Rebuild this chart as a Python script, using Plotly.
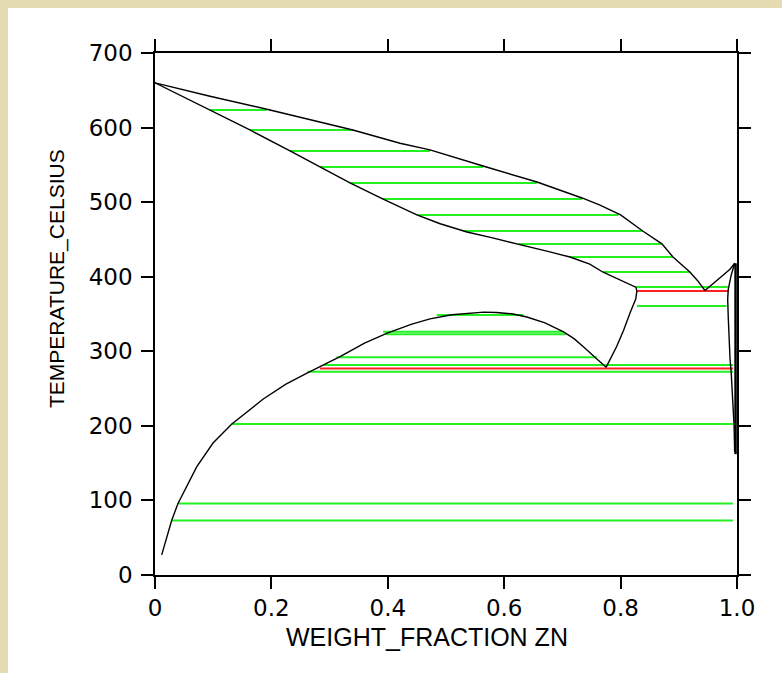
import plotly.graph_objects as go

# --- Data ---
# Al-rich liquidus
liq_x = [0.0, 0.0945, 0.1976, 0.34, 0.421, 0.4725, 0.5636, 0.6564, 0.7337, 0.7646, 0.80, 0.838, 0.871, 0.890, 0.919, 0.932, 0.945]
liq_T = [660, 642, 623.6, 596.8, 579, 570, 548.5, 527, 505.6, 496, 482.8, 461.3, 444, 426.4, 406.3, 395, 381.5]
# Al-rich solidus
sol_x = [0.0, 0.0945, 0.163, 0.232, 0.2835, 0.335, 0.392, 0.45, 0.49, 0.536, 0.58, 0.632, 0.675, 0.713, 0.747, 0.77, 0.80, 0.826, 0.828]
sol_T = [660, 623.6, 596.8, 568.6, 547, 525.7, 504, 483, 471, 460, 452, 442.5, 434, 426.4, 417, 406, 395, 386, 381]
# boundary from eutectic solid down to the eutectoid point
mono_x = [0.828, 0.826, 0.816, 0.805, 0.793, 0.784, 0.775]
mono_T = [381, 370, 351, 328, 306, 292, 278.5]
# Al-rich solvus / miscibility dome
dome_x = [0.0115, 0.0286, 0.0395, 0.0716, 0.0997, 0.132, 0.186, 0.225, 0.262, 0.29, 0.318, 0.36, 0.398, 0.44, 0.4725,
          0.51, 0.541, 0.565, 0.587, 0.615, 0.639, 0.67, 0.702, 0.72, 0.736, 0.755, 0.775]
dome_T = [27, 73, 96, 145, 177, 202.5, 236, 256, 271, 282, 293, 311, 324, 336, 343.5,
          349, 351.5, 352.5, 352, 350, 346, 338, 326, 317, 306, 293, 278.5]
# Zn-rich liquidus
znliq_x = [0.945, 0.96, 0.975, 0.988, 0.996]
znliq_T = [381.5, 391, 401, 410, 418]
# Zn-rich solidus and solvus
znsol_x = [0.996, 0.990, 0.985, 0.984, 0.985, 0.986, 0.988, 0.990, 0.993, 0.995, 0.996]
znsol_T = [418, 402, 383, 370, 345, 320, 290, 272, 235, 200, 165]
# Zn-side edge line
znedge_x = [0.9975, 0.9975, 0.9975]
znedge_T = [418, 250, 162]

# Green tie lines: temperature, left end, right end
tie_T = [623.6, 596.8, 568.6, 547.1, 525.7, 504.2, 482.8, 461.3, 443.9, 426.4, 406.3, 386.2, 360.7,
         348.5, 326.3, 322.8, 292, 281.5, 272.7, 202.5, 96, 73]
tie_x0 = [0.0945, 0.163, 0.232, 0.2835, 0.335, 0.392, 0.45, 0.53, 0.625, 0.713, 0.77, 0.826, 0.828,
          0.484, 0.392, 0.397, 0.312, 0.29, 0.262, 0.132, 0.0395, 0.0286]
tie_x1 = [0.192, 0.340, 0.4725, 0.5636, 0.656, 0.734, 0.796, 0.838, 0.871, 0.890, 0.919, 0.985, 0.982,
          0.633, 0.702, 0.706, 0.759, 0.993, 0.993, 0.993, 0.993, 0.993]
# Red (invariant) tie lines
red_T = [381, 277]
red_x0 = [0.828, 0.2835]
red_x1 = [0.985, 0.993]

x_ticks = [0, 0.2, 0.4, 0.6, 0.8, 1.0]
x_ticktext = ["0", "0.2", "0.4", "0.6", "0.8", "1.0"]
y_ticks = [0, 100, 200, 300, 400, 500, 600, 700]
x_title = "WEIGHT_FRACTION ZN"
y_title = "TEMPERATURE_CELSIUS"

def segments(T, x0, x1):
    xs, ys = [], []
    for t, a, b in zip(T, x0, x1):
        xs += [a, b, None]
        ys += [t, t, None]
    return xs, ys

fig = go.Figure()
gx, gy = segments(tie_T, tie_x0, tie_x1)
fig.add_trace(go.Scatter(x=gx, y=gy, mode="lines", line=dict(color="#22f022", width=2), hoverinfo="skip"))
rx, ry = segments(red_T, red_x0, red_x1)
fig.add_trace(go.Scatter(x=rx, y=ry, mode="lines", line=dict(color="#ff2020", width=2), hoverinfo="skip"))

for xs, ys, w in [(liq_x, liq_T, 1.4), (sol_x, sol_T, 1.4), (mono_x, mono_T, 1.4), (dome_x, dome_T, 1.4),
                  (znliq_x, znliq_T, 1.4), (znsol_x, znsol_T, 1.4), (znedge_x, znedge_T, 2.5)]:
    fig.add_trace(go.Scatter(x=xs, y=ys, mode="lines", line=dict(color="black", width=w)))

# plot area in page pixels: x 155..737, y 53..575 ; figure placed at page origin (body margin removed)
pw, ph = 582, 522

def px_to_paper_x(px):
    return (px - 155) / pw

def px_to_paper_y(py):
    return (575 - py) / ph

beige = "#e6dcb4"
fig.update_layout(
    width=782, height=673,
    margin=dict(l=155, r=45, t=53, b=98),
    paper_bgcolor="white", plot_bgcolor="white",
    showlegend=False,
    font=dict(family="Arial, Liberation Sans, sans-serif", color="black", size=22),
    shapes=[
        dict(type="rect", xref="paper", yref="paper", x0=px_to_paper_x(-5), x1=px_to_paper_x(8),
             y0=px_to_paper_y(680), y1=px_to_paper_y(-5), fillcolor=beige, line=dict(width=0), layer="above"),
        dict(type="rect", xref="paper", yref="paper", x0=px_to_paper_x(-5), x1=px_to_paper_x(790),
             y0=px_to_paper_y(8), y1=px_to_paper_y(-5), fillcolor=beige, line=dict(width=0), layer="above"),
    ],
    annotations=[
        dict(text=x_title, xref="paper", yref="paper", x=px_to_paper_x(427), y=px_to_paper_y(637),
             xanchor="center", yanchor="middle", showarrow=False,
             font=dict(size=25, family="Arial, Liberation Sans, sans-serif")),
        dict(text=y_title, xref="paper", yref="paper", x=px_to_paper_x(57), y=px_to_paper_y(278),
             xanchor="center", yanchor="middle", showarrow=False, textangle=-90,
             font=dict(size=21, family="Arial, Liberation Sans, sans-serif")),
    ],
)
axis_common = dict(showline=True, linecolor="black", linewidth=1.5, mirror="ticks", ticks="outside",
                   ticklen=12, tickwidth=1.5, tickcolor="black", showgrid=False, zeroline=False,
                   tickfont=dict(size=23, color="black", family="DejaVu Sans, sans-serif"))
fig.update_xaxes(range=[0, 1], tickvals=x_ticks, ticktext=x_ticktext, **axis_common)
fig.update_yaxes(range=[0, 700], tickvals=y_ticks, ticklabelstandoff=4, **axis_common)

fig.write_html("out.html", config={"displayModeBar": False},
               post_script="document.body.style.margin='0';document.body.style.background='#ffffff';")
